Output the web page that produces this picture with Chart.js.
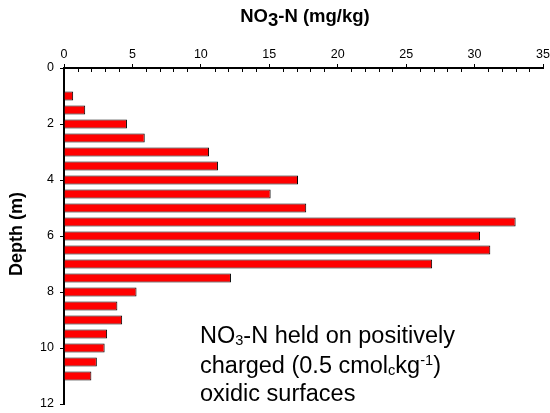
<!DOCTYPE html>
<html>
<head>
<meta charset="utf-8">
<script src="https://cdn.jsdelivr.net/npm/chart.js@4/dist/chart.umd.min.js"></script>
<style>
  html, body { margin: 0; padding: 0; background: #fff; }
</style>
</head>
<body>
<canvas id="depthChart" width="550" height="413"></canvas>
<script>
// ── Data: depth of each sample (m) and NO3-N content (mg/kg) ──
const depths = [1.0, 1.5, 2.0, 2.5, 3.0, 3.5, 4.0, 4.5, 5.0, 5.5, 6.0,
                6.5, 7.0, 7.5, 8.0, 8.5, 9.0, 9.5, 10.0, 10.5, 11.0];
const no3 = [0.67, 1.55, 4.6, 5.9, 10.6, 11.25, 17.1, 15.1, 17.7, 33.0, 30.4,
             31.15, 26.9, 12.2, 5.3, 3.9, 4.25, 3.15, 2.97, 2.4, 2.0];
const xTickLabels = [0, 5, 10, 15, 20, 25, 30, 35];
const yTickLabels = [0, 2, 4, 6, 8, 10, 12];

// ── Texts (parts: [text, kind]) ──
const xTitle = [['NO', ''], ['3', 'sub'], ['-N (mg/kg)', '']];
const yTitle = 'Depth (m)';
const note = [
  [['NO', ''], ['3', 'sub'], ['-N held on positively', '']],
  [['charged (0.5 cmol', ''], ['c', 'sub'], ['kg', ''], ['-1', 'sup'], [')', '']],
  [['oxidic surfaces', '']],
];

const FONT = "'Liberation Sans', Arial, sans-serif";

// draw a run of text with sub/superscripts, returns width
function richText(ctx, parts, x, y, size, weight, opts) {
  opts = opts || {};
  const small = opts.small || 0.62;
  let cx = x;
  parts.forEach(([t, kind]) => {
    let s = size, dy = 0;
    if (kind === 'sub') { s = size * (opts.subSize || small); dy = opts.subDrop || size * 0.1; }
    if (kind === 'sup') { s = size * small; dy = -size * 0.36; }
    ctx.font = `${weight} ${s}px ${FONT}`;
    if (!opts.measure) ctx.fillText(t, cx, y + dy);
    cx += ctx.measureText(t).width;
  });
  return cx - x;
}

// ── Plugin: titles, minor ticks and annotation ──
const decorations = {
  id: 'decorations',
  afterDraw(chart) {
    const { ctx, chartArea, scales } = chart;
    ctx.save();
    ctx.fillStyle = '#000';
    ctx.textBaseline = 'alphabetic';

    // minor ticks on the top axis, pointing into the plot
    ctx.strokeStyle = '#000';
    ctx.lineWidth = 1;
    scales.x.ticks.forEach(t => {
      if (xTickLabels.includes(t.value)) return;
      const px = Math.round(scales.x.getPixelForValue(t.value)) + 0.5;
      ctx.beginPath();
      ctx.moveTo(px, chartArea.top);
      ctx.lineTo(px, chartArea.top + 4);
      ctx.stroke();
    });

    // top axis title
    const tOpts = { subSize: 1, subDrop: 4 };
    const w = richText(ctx, xTitle, 0, 0, 18.5, 'bold', Object.assign({ measure: true }, tOpts));
    const cx = (chartArea.left + chartArea.right) / 2 + 1.5;
    richText(ctx, xTitle, cx - w / 2, 22, 18.5, 'bold', tOpts);

    // left axis title
    ctx.save();
    ctx.translate(22, (chartArea.top + chartArea.bottom) / 2 - 2);
    ctx.rotate(-Math.PI / 2);
    ctx.font = `bold 18px ${FONT}`;
    ctx.textAlign = 'center';
    ctx.fillText(yTitle, 0, 0);
    ctx.restore();

    // annotation
    const baselines = [343, 373, 401];
    note.forEach((line, i) => {
      richText(ctx, line, 200, baselines[i], 23.5, 'normal', { subDrop: 2 });
    });
    ctx.restore();
  }
};

const ctx = document.getElementById('depthChart');

new Chart(ctx, {
  type: 'bar',
  data: {
    datasets: [{
      label: 'NO3-N',
      data: depths.map((d, i) => ({ x: no3[i], y: d })),
      backgroundColor: '#ff0000',
      borderColor: '#000',
      borderWidth: 1,
      barPercentage: 0.64,
      categoryPercentage: 1,
    }]
  },
  options: {
    indexAxis: 'y',
    responsive: false,
    animation: false,
    devicePixelRatio: 1,
    layout: { padding: { left: 0, right: 7, top: 0, bottom: 9 } },
    scales: {
      x: {
        type: 'linear',
        position: 'top',
        min: 0,
        max: 35,
        afterFit: (scale) => {
          scale.height = 68;
          scale.paddingLeft = 0;
          scale.paddingRight = 0;
        },
        ticks: {
          stepSize: 1,
          autoSkip: false,
          maxRotation: 0,
          padding: 2,
          color: '#000',
          font: { family: FONT, size: 12.5 },
          callback: (v) => xTickLabels.includes(v) ? String(v) : '',
        },
        grid: {
          drawOnChartArea: false,
          tickLength: 4,
          tickWidth: 1,
          tickColor: (c) => (c.tick && xTickLabels.includes(c.tick.value)) ? '#000' : 'rgba(0,0,0,0)',
        },
        border: { display: true, color: '#000', width: 2 },
      },
      y: {
        type: 'linear',
        reverse: true,
        offset: false,
        min: 0,
        max: 12,
        afterFit: (scale) => {
          scale.width = 64;
          scale.paddingTop = 0;
          scale.paddingBottom = 0;
        },
        ticks: {
          stepSize: 2,
          padding: 6,
          color: '#000',
          font: { family: FONT, size: 12.5 },
          callback: (v) => yTickLabels.includes(v) ? String(v) : '',
        },
        grid: {
          offset: false,
          drawOnChartArea: false,
          tickLength: 4,
          tickWidth: 1,
          tickColor: '#000',
        },
        border: { display: true, color: '#000', width: 2 },
      }
    },
    plugins: {
      legend: { display: false },
      tooltip: { enabled: false },
    }
  },
  plugins: [decorations]
});
</script>
</body>
</html>
